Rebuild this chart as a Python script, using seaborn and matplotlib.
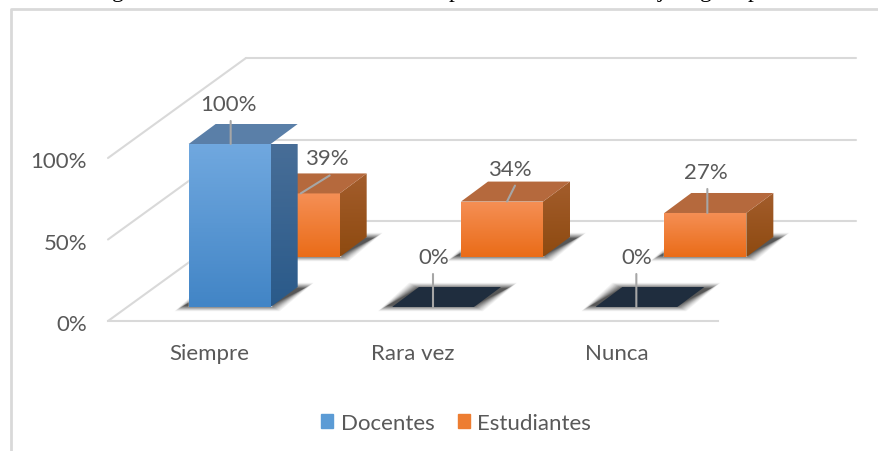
import numpy as np
import pandas as pd
import matplotlib
matplotlib.use("Agg")
import matplotlib.pyplot as plt
from matplotlib.colors import LinearSegmentedColormap
from matplotlib.patches import Patch, Polygon
from matplotlib.transforms import ScaledTranslation
import seaborn as sns

categories = ["Siempre", "Rara vez", "Nunca"]
docentes = [100, 0, 0]
estudiantes = [39, 34, 27]
y_ticks = [0, 50, 100]
series_names = ["Docentes", "Estudiantes"]

W, H = 879, 452
sns.set_theme(style="white")
plt.rcParams["font.family"] = ["Lato", "DejaVu Sans"]
TXT = "#595959"
GRID = "#d9d9d9"
FS = 16

fig = plt.figure(figsize=(W / 100, H / 100), dpi=100, facecolor="white")


def make_ax(dx, dy, z):
    # plane of the pseudo-3D box, shifted dx px right and dy px up from the front plane
    ax = fig.add_axes([(108 + dx) / W, (H - 322 + dy) / H, 610 / W, 163 / H], zorder=z)
    ax.patch.set_alpha(0)
    return ax


def style(ax):
    ax.set_xlim(-0.5, 2.5)
    ax.set_ylim(0, 100)
    ax.set_xlabel("")
    ax.set_ylabel("")
    for s in ax.spines.values():
        s.set_visible(False)


PX = 3 / 610      # x data units per px
PY = 100 / 163    # y data units per px

# back wall
back = make_ax(138, 100, 0)
style(back)
back.set_yticks(y_ticks)
back.set_xticks([])
back.set_yticklabels([])
back.tick_params(length=0)
back.grid(True, axis="y", color=GRID, lw=1.5, clip_on=False)
back.set_axisbelow(True)
for gl in back.get_ygridlines():
    gl.set_clip_on(False)

# front plane: tick labels, floor edge, side diagonals
front = make_ax(0, 0, 1)
style(front)
front.set_xticks(range(3))
front.set_xticklabels(categories, color=TXT, fontsize=FS)
front.set_yticks(y_ticks)
front.set_yticklabels([f"{v}%" for v in y_ticks], color=TXT, fontsize=FS)
front.tick_params(axis="y", length=0, pad=15)
front.tick_params(axis="x", length=0, pad=16)
for lab in front.get_yticklabels():
    lab.set_transform(lab.get_transform() + ScaledTranslation(0, -1 / 100, fig.dpi_scale_trans))
front.spines["bottom"].set_visible(True)
front.spines["bottom"].set_color(GRID)
front.spines["bottom"].set_linewidth(1.5)
for v in y_ticks:
    front.plot([-0.5, -0.5 + 138 * PX], [v, v + 100 * PY], color=GRID, lw=1.5, clip_on=False)


def shade(ax, verts, top, bottom, z):
    cmap = LinearSegmentedColormap.from_list("g", [top, bottom])
    verts = np.array(verts)
    poly = Polygon(verts, closed=True, transform=ax.transData, fc="none", ec="none")
    ax.add_patch(poly)
    ext = [verts[:, 0].min(), verts[:, 0].max(), verts[:, 1].min(), verts[:, 1].max()]
    im = ax.imshow(np.linspace(0, 1, 64)[:, None], cmap=cmap, extent=ext, aspect="auto",
                   origin="upper", zorder=z, clip_on=True)
    im.set_clip_path(poly)


def draw_series(ax, values, name, pal, label_offsets):
    df = pd.DataFrame({"cat": categories, "val": values, "serie": name})
    sns.barplot(data=df, x="cat", y="val", color=pal["base"], saturation=1, width=82 / 203.3,
                ax=ax, zorder=3)
    style(ax)
    ax.set_xticks([])
    ax.set_yticks([])
    ddx, ddy = 27 * PX, 20 * PY
    for bar, v, off in zip(list(ax.patches), values, label_offsets):
        x0, x1 = bar.get_x(), bar.get_x() + bar.get_width()
        h = bar.get_height()
        # soft floor shadow
        for grow, a in [(7, 0.05), (6, 0.06), (5, 0.07), (4, 0.09), (3, 0.11), (2, 0.13), (1, 0.15),
                        (0, 0.17), (-1, 0.2), (-2, 0.25)]:
            g = grow * PX
            gy = grow * PY * 0.6
            ax.add_patch(Polygon([(x0 - 7 * PX - g, -gy), (x1 + 2 * PX + g, -gy),
                                  (x1 + 36 * PX + g, 20 * PY + gy), (x0 + 24 * PX - g, 20 * PY + gy)],
                                 closed=True, fc="#222222", ec="none", alpha=a, zorder=1,
                                 clip_on=False))
        if h > 0:
            shade(ax, [(x0, 0), (x1, 0), (x1, h), (x0, h)], pal["front_top"], pal["front_bot"], 4)
            shade(ax, [(x1, 0), (x1 + ddx, ddy), (x1 + ddx, h + ddy), (x1, h)],
                  pal["side_top"], pal["side_bot"], 4)
        ax.add_patch(Polygon([(x0, h), (x1, h), (x1 + ddx, h + ddy), (x0 + ddx, h + ddy)],
                             closed=True, fc=pal["top"] if h > 0 else "#1f2d3e", ec="none",
                             zorder=4, clip_on=False))
        xm = (x0 + x1) / 2
        ox, oy, tipx, tipy, linex = off
        ax.annotate("", xy=(xm + tipx * PX, h + tipy * PY),
                    xytext=(xm + linex * PX, h + (tipy + oy - 17) * PY),
                    arrowprops=dict(arrowstyle="-", color="#a6a6a6", lw=1.5, shrinkA=0, shrinkB=0),
                    annotation_clip=False, zorder=6)
        ax.annotate(f"{v}%", xy=(xm, h), xytext=(ox * 0.72, oy * 0.72), textcoords="offset points",
                    ha="center", va="center", color=TXT, fontsize=FS, zorder=7,
                    annotation_clip=False)
    ax.set_xlim(-0.5, 2.5)
    ax.set_ylim(0, 100)


BLUE = dict(base="#5b9bd5", front_top="#70a8df", front_bot="#4285c6", side_top="#4b7099",
            side_bot="#2a5a8a", top="#5a7fa8")
ORANGE = dict(base="#ed7d31", front_top="#f58f55", front_bot="#ea6c18", side_top="#a35d2c",
              side_bot="#8e4a10", top="#b5693d")

ax_e = make_ax(89, 64, 2)
draw_series(ax_e, estudiantes, series_names[1], ORANGE,
            [(28, 35, 2, 0, 31), (8, 33, 5, 0, 13), (1, 41, 2, 0, 2)])
ax_d = make_ax(20, 14, 3)
draw_series(ax_d, docentes, series_names[0], BLUE,
            [(-1, 40, 1, 0, 1), (1, 50, 0, 0, 0), (0, 50, 0, 0, 0)])

# chart frame
fig.add_artist(plt.Line2D([11 / W, 11 / W, 1], [0, 1 - 10 / H, 1 - 10 / H], color=GRID, lw=2))

# clipped remnants of the caption above the chart
for x, s in [(118, "g"), (455, "p"), (661, "j"), (706, "g"), (754, "p")]:
    fig.text(x / W, 1 + 3 / H, s, family="Liberation Serif", fontsize=17, color="black", ha="center",
             va="baseline")

fig.legend(handles=[Patch(color=BLUE["base"], label=series_names[0]),
                    Patch(color=ORANGE["base"], label=series_names[1])],
           loc="center", bbox_to_anchor=(456 / W, 1 - 424 / H), ncol=2, frameon=False,
           fontsize=FS, labelcolor=TXT, handlelength=0.55, handleheight=0.55,
           handletextpad=0.32, columnspacing=1.05, borderpad=0)

fig.savefig("out.png", dpi=100, facecolor="white")
